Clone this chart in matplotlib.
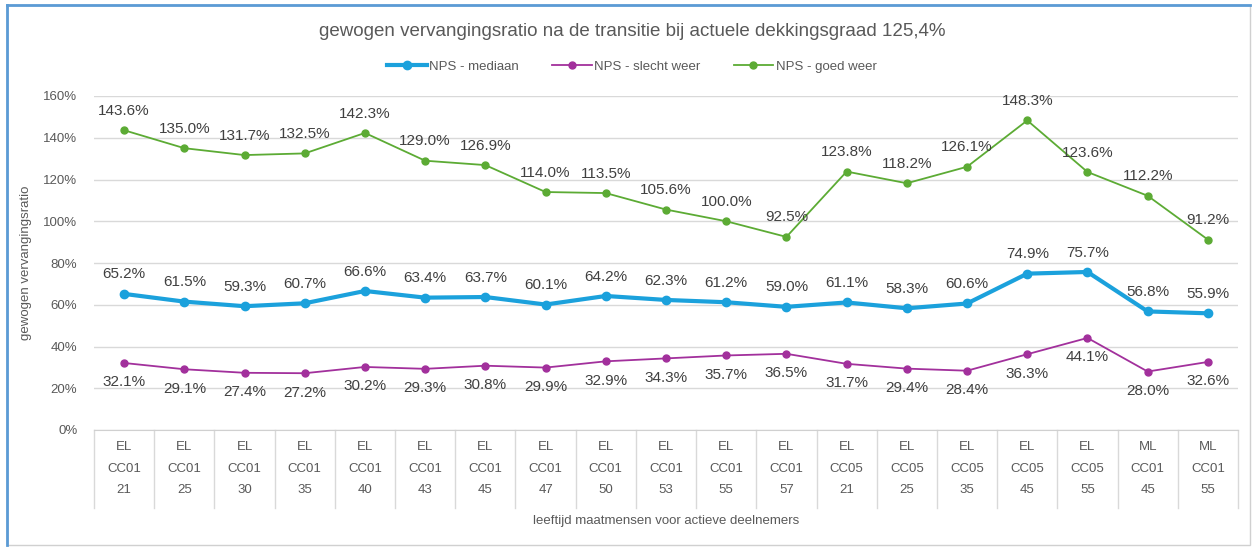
import numpy as np
import matplotlib
matplotlib.use("Agg")
import matplotlib.pyplot as plt
from matplotlib.patches import Rectangle

plt.rcParams["font.family"] = ["Liberation Sans", "DejaVu Sans"]

# x-axis categories (three-level table)
regeling = ["EL"] * 17 + ["ML"] * 2
contract = ["CC01"] * 12 + ["CC05"] * 5 + ["CC01"] * 2
leeftijd = ["21", "25", "30", "35", "40", "43", "45", "47", "50", "53", "55", "57",
            "21", "25", "35", "45", "55", "45", "55"]

mediaan = [65.2, 61.5, 59.3, 60.7, 66.6, 63.4, 63.7, 60.1, 64.2, 62.3, 61.2, 59.0,
           61.1, 58.3, 60.6, 74.9, 75.7, 56.8, 55.9]
slecht_weer = [32.1, 29.1, 27.4, 27.2, 30.2, 29.3, 30.8, 29.9, 32.9, 34.3, 35.7, 36.5,
               31.7, 29.4, 28.4, 36.3, 44.1, 28.0, 32.6]
goed_weer = [143.6, 135.0, 131.7, 132.5, 142.3, 129.0, 126.9, 114.0, 113.5, 105.6, 100.0, 92.5,
             123.8, 118.2, 126.1, 148.3, 123.6, 112.2, 91.2]

blue = "#1ba1dc"
purple = "#a2309c"
green = "#5cab34"
txt = "#404040"
grey = "#595959"

fig = plt.figure(figsize=(12.55, 5.48), dpi=100)
ax = fig.add_axes([94/1255, 118/548, (1238-94)/1255, (430-96)/548])

n = len(leeftijd)
x = np.arange(n)

ax.plot(x, mediaan, color=blue, lw=3, marker="o", ms=6, label="NPS - mediaan", zorder=4)
ax.plot(x, slecht_weer, color=purple, lw=1.3, marker="o", ms=5, label="NPS - slecht weer", zorder=3)
ax.plot(x, goed_weer, color=green, lw=1.3, marker="o", ms=5, label="NPS - goed weer", zorder=3)

for i in range(n):
    ax.annotate(f"{goed_weer[i]:.1f}%", (x[i], goed_weer[i]), xytext=(0, 14), textcoords="offset points",
                ha="center", va="center", fontsize=11, color=txt)
    ax.annotate(f"{mediaan[i]:.1f}%", (x[i], mediaan[i]), xytext=(0, 14), textcoords="offset points",
                ha="center", va="center", fontsize=11, color=txt)
    ax.annotate(f"{slecht_weer[i]:.1f}%", (x[i], slecht_weer[i]), xytext=(0, -14), textcoords="offset points",
                ha="center", va="center", fontsize=11, color=txt)

ax.set_xlim(-0.5, n - 0.5)
ax.set_ylim(0, 160)
ax.set_yticks(np.arange(0, 161, 20))
ax.set_yticklabels([f"{v}%" for v in range(0, 161, 20)], fontsize=9.5, color=grey)
ax.tick_params(axis="y", length=0, pad=12)
ax.set_xticks([])
ax.grid(axis="y", color="#d9d9d9", lw=1)
ax.set_axisbelow(True)
for s in ["top", "right", "left"]:
    ax.spines[s].set_visible(False)
ax.spines["bottom"].set_color("#d0d0d0")

# category table under the axis
tbl_bottom = -78/334
for b in np.arange(-0.5, n, 1.0):
    ax.plot([b, b], [0, tbl_bottom], transform=ax.get_xaxis_transform(), color="#d9d9d9",
            lw=1, clip_on=False)
for i in range(n):
    for lab, yy in [(regeling[i], -17/334), (contract[i], -39/334), (leeftijd[i], -60/334)]:
        ax.text(x[i], yy, lab, transform=ax.get_xaxis_transform(), ha="center", va="center",
                fontsize=9.5, color=grey)

ax.text(0.5, -91/334, "leeftijd maatmensen voor actieve deelnemers", transform=ax.transAxes,
        ha="center", va="center", fontsize=9.5, color=grey)
ax.set_ylabel("gewogen vervangingsratio", fontsize=9.5, color=grey, labelpad=8)

fig.text(632/1255, 1 - 31/548, "gewogen vervangingsratio na de transitie bij actuele dekkingsgraad 125,4%",
         ha="center", va="center", fontsize=13.5, color=grey)
fig.legend(loc="center", bbox_to_anchor=(632/1255, 1 - 67/548), ncol=3, frameon=False,
           fontsize=9.5, labelcolor=grey, handlelength=3, columnspacing=2.5, handletextpad=0.2)

# frame around the chart
fig.patches.append(Rectangle((7/1255, 3/548), 1243/1255, 540/548, transform=fig.transFigure,
                             fill=False, edgecolor="#d0d0d0", lw=1))
fig.add_artist(plt.Line2D([7/1255, 7/1255], [3/548, 543/548], transform=fig.transFigure,
                          color="#5b9bd5", lw=2))
fig.add_artist(plt.Line2D([7/1255, 1250/1255], [543/548, 543/548], transform=fig.transFigure,
                          color="#5b9bd5", lw=2))

fig.savefig("out.png", dpi=100)
